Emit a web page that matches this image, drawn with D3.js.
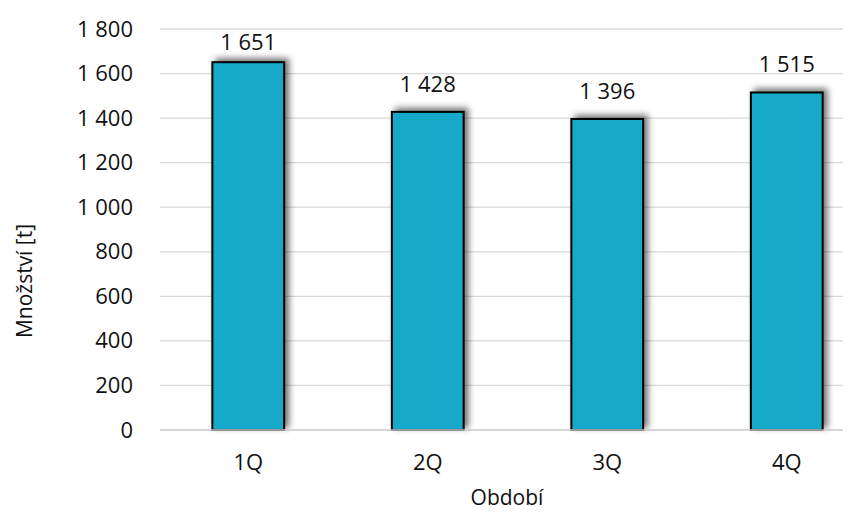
<!DOCTYPE html>
<html>
<head>
<meta charset="utf-8">
<script src="https://cdn.jsdelivr.net/npm/d3@7/dist/d3.min.js"></script>
<style>
  html, body { margin: 0; padding: 0; background: #fff; }
  svg text { font-family: "Open Sans", "Noto Sans", sans-serif; fill: #111; }
</style>
</head>
<body>
<svg id="chart" width="863" height="513"></svg>
<script>
// Quarterly quantities in tonnes
const categories = ["1Q", "2Q", "3Q", "4Q"];
const values = [1651, 1428, 1396, 1515];
const yTicks = [0, 200, 400, 600, 800, 1000, 1200, 1400, 1600, 1800];

const svg = d3.select("#chart");

const plot = { left: 160, right: 843, top: 29, bottom: 430 };

const x = d3.scaleBand()
  .domain(categories)
  .range([158.5, 876.5])
  .paddingInner(0.6)
  .paddingOuter(0.3);

const y = d3.scaleLinear()
  .domain([0, 1800])
  .range([plot.bottom, plot.top]);

// Czech style thousands separator (space)
const fmt = v => d3.format(",")(v).replace(/,/g, "\u00a0");

// soft shadow behind the bars
const defs = svg.append("defs");
const f = defs.append("filter").attr("id", "shadow")
  .attr("x", "-30%").attr("y", "-30%").attr("width", "160%").attr("height", "160%");
f.append("feDropShadow")
  .attr("dx", 4).attr("dy", -3)
  .attr("stdDeviation", 3)
  .attr("flood-color", "#000").attr("flood-opacity", 0.55);

// horizontal gridlines
svg.append("g")
  .selectAll("line")
  .data(yTicks.filter(d => d > 0))
  .join("line")
  .attr("x1", plot.left).attr("x2", plot.right)
  .attr("y1", d => y(d)).attr("y2", d => y(d))
  .attr("stroke", "#d9d9d9").attr("stroke-width", 1.3);

// y axis labels
const yAxis = d3.axisLeft(y).tickValues(yTicks).tickFormat(fmt).tickSize(0).tickPadding(0);
const gy = svg.append("g").attr("transform", `translate(${plot.left - 27},0)`).call(yAxis);
gy.select(".domain").remove();
gy.selectAll("text").attr("font-size", 22).attr("fill", "#111")
  .style("font-family", '"Open Sans", sans-serif');

// bars
svg.append("g")
  .selectAll("rect")
  .data(values)
  .join("rect")
  .attr("x", (d, i) => x(categories[i]))
  .attr("y", d => y(d))
  .attr("width", x.bandwidth())
  .attr("height", d => y(0) - y(d))
  .attr("fill", "#15a9c9")
  .attr("stroke", "#000")
  .attr("stroke-width", 2)
  .attr("filter", "url(#shadow)");

// baseline
svg.append("line")
  .attr("x1", plot.left).attr("x2", plot.right)
  .attr("y1", y(0)).attr("y2", y(0))
  .attr("stroke", "#c8c8c8").attr("stroke-width", 1.6);

// value labels above the bars, kept inside the plot area
svg.append("g")
  .selectAll("text")
  .data(values)
  .join("text")
  .attr("x", (d, i) => x(categories[i]) + x.bandwidth() / 2)
  .attr("y", d => Math.max(y(d) - 20, 50))
  .attr("text-anchor", "middle")
  .attr("font-size", 22)
  .text(d => fmt(d));

// x axis labels
const xAxis = d3.axisBottom(x).tickSize(0).tickPadding(0);
const gx = svg.append("g").attr("transform", `translate(0,${plot.bottom + 24})`).call(xAxis);
gx.select(".domain").remove();
gx.selectAll("text").attr("font-size", 22).attr("fill", "#111")
  .style("font-family", '"Open Sans", sans-serif');

// axis titles
svg.append("text")
  .attr("x", 507)
  .attr("y", 505)
  .attr("text-anchor", "middle")
  .attr("font-size", 21)
  .text("Období");

svg.append("text")
  .attr("transform", "translate(32,281) rotate(-90)")
  .attr("text-anchor", "middle")
  .attr("font-size", 21)
  .text("Množství [t]");
</script>
</body>
</html>
